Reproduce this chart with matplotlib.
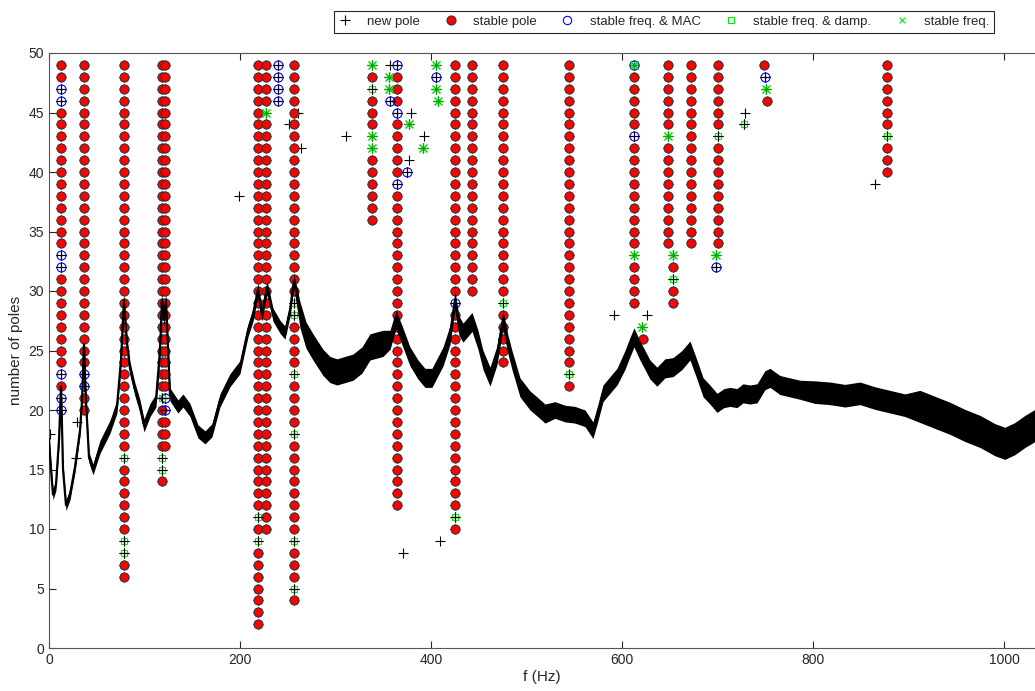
import matplotlib
matplotlib.use("Agg")
import matplotlib.pyplot as plt
from matplotlib.lines import Line2D
import numpy as np

plt.rcParams['font.family'] = ['Liberation Sans', 'DejaVu Sans']

# ---------------- data ----------------
# columns of poles (frequency in Hz, lowest and highest model order)
col_freq = [12.6, 36.6, 78.5, 118.3, 121.5, 218.8, 227.6, 256.5, 337.8, 364.0,
            425.1, 443.0, 475.4, 544.0, 612.6, 648.0, 672.0, 701.0, 877.8]
col_lo = [20, 20, 6, 14, 17, 2, 10, 4, 36, 12, 10, 30, 24, 22, 29, 34, 34, 34, 40]
col_hi = [49, 49, 49, 49, 49, 49, 49, 49, 49, 49, 49, 49, 49, 49, 49, 49, 49, 49, 49]

# rows in the columns that are not fully stable
col_mac = {0: [20, 21, 23, 32, 33, 46, 47], 1: [22, 23], 4: [20, 21],
           9: [39, 45, 49], 10: [29], 14: [43, 49]}
col_damp = {2: [8, 9, 16], 3: [15, 16, 21], 5: [9, 11], 7: [5, 9, 18, 23, 28, 29],
            8: [47], 10: [11], 12: [29], 13: [23], 17: [43], 18: [43]}
col_freqonly = {6: [45], 8: [42, 43, 49], 14: [33, 49], 15: [43]}

# isolated poles
stable_f = [621.7, 653.7, 653.7, 653.7, 749.0, 751.5]
stable_n = [26, 32, 30, 29, 49, 46]
mac_f = [240.0, 240.0, 240.0, 240.0, 357.4, 374.6, 405.0, 698.5, 749.7]
mac_n = [46, 47, 48, 49, 46, 40, 48, 32, 48]
damp_f = [653.7, 728.0]
damp_n = [31, 44]
freq_f = [356.4, 356.0, 377.0, 392.0, 405.0, 405.5, 407.0, 621.3, 653.7, 698.5, 750.8]
freq_n = [48, 47, 44, 42, 49, 47, 46, 27, 33, 33, 47]
new_f = [1.0, 29.0, 28.3, 199.0, 260.7, 251.0, 263.6, 311.0, 357.0, 378.7, 393.0,
         377.0, 371.0, 409.4, 591.6, 626.2, 728.8, 864.6]
new_n = [18, 19, 16, 38, 45, 44, 42, 43, 49, 45, 43, 41, 8, 9, 28, 28, 45, 39]

# spectrum overlay (scaled to the pole axis)
curve_f = [0, 2.1, 4.2, 7.3, 10.5, 12.6, 14.7, 17.8, 22, 27.2,
           32.5, 34.6, 36.6, 38.7, 41.9, 46.1, 53.4, 63.9, 71.2, 75.4,
           78.5, 81.7, 84.8, 90.1, 95.3, 99.5, 105.8, 112, 116.2, 118.3,
           120.4, 122.5, 126.7, 135, 140.3, 147.6, 156, 163.4, 170.7, 179,
           189.5, 200, 208.4, 213.6, 218.8, 223, 228.3, 234.6, 241.9, 247.1,
           252.4, 256.5, 262.8, 269.1, 276.4, 286.9, 294.2, 301.6, 309.9, 318.3,
           327.7, 336.1, 349.7, 357.1, 363.4, 369.6, 378, 386.4, 393.7, 401,
           412.6, 419.9, 425.1, 429.3, 433.5, 443, 449.2, 454.5, 461.8, 469.1,
           475.4, 480.6, 484.8, 493.2, 503.7, 511, 519.4, 529.8, 540.3, 550.8,
           561.3, 569.6, 574.9, 580.1, 587.4, 594.8, 603.1, 608.4, 612.6, 618.8,
           624.1, 629.3, 636.6, 645, 653.4, 662.8, 671.2, 678.5, 685, 692.1,
           699.5, 706.8, 713.1, 720.4, 726.7, 734, 741.4, 749.7, 755, 765.4,
           775.9, 786.4, 802, 817.8, 833.5, 849.2, 865, 880.6, 896.3, 912,
           927.7, 943.5, 959.2, 974.9, 990.6, 1001, 1011.5, 1022, 1032.5]
curve_n = [17.5, 15.0, 12.9, 13.7, 17.5, 22.0, 15.0, 12.0, 12.9, 15.2,
           18.3, 20.8, 25.5, 20.8, 16.0, 15.0, 16.9, 18.6, 20.3, 24.2,
           29.2, 25.5, 23.5, 21.7, 20.3, 18.7, 20.0, 20.8, 25.0, 29.2,
           27.6, 29.2, 21.3, 20.3, 20.8, 20.0, 18.2, 17.7, 18.3, 20.8,
           22.5, 23.6, 26.7, 28.0, 30.1, 28.0, 30.3, 28.0, 27.0, 26.5,
           28.4, 30.9, 28.0, 26.3, 25.3, 24.0, 23.4, 23.2, 23.4, 23.6,
           24.2, 25.3, 25.6, 25.9, 27.6, 26.3, 24.5, 23.4, 22.7, 22.7,
           24.5, 26.3, 29.2, 27.1, 26.5, 27.4, 25.9, 24.2, 22.8, 24.6,
           27.6, 25.5, 24.2, 21.9, 20.8, 20.3, 19.7, 20.0, 19.7, 19.6,
           19.3, 18.3, 19.8, 21.4, 22.1, 22.8, 24.2, 25.3, 26.1, 25.0,
           24.2, 23.4, 22.8, 23.5, 23.6, 24.2, 25.0, 23.4, 21.9, 21.3,
           20.6, 21.0, 21.1, 21.0, 21.4, 21.3, 21.4, 22.5, 22.7, 22.1,
           21.9, 21.7, 21.5, 21.4, 21.2, 21.4, 21.0, 20.7, 20.4, 20.3,
           19.8, 19.3, 18.7, 18.2, 17.5, 17.2, 17.6, 18.2, 18.7]
# band half-thickness of the noisy spectrum, by frequency range
band_lo = [0, 50, 260, 350, 520, 600, 800, 900]
band_hi = [50, 260, 350, 520, 600, 800, 900, 1100]
band_hw = [0.45, 0.55, 1.1, 0.8, 0.7, 0.8, 0.95, 1.35]

# ---------------- assemble ----------------
red_f, red_n = list(stable_f), list(stable_n)
blue_f, blue_n = list(mac_f), list(mac_n)
gsq_f, gsq_n = list(damp_f), list(damp_n)
gx_f, gx_n = list(freq_f), list(freq_n)
for i, f in enumerate(col_freq):
    m = col_mac.get(i, [])
    d = col_damp.get(i, [])
    q = col_freqonly.get(i, [])
    for n in range(col_lo[i], col_hi[i] + 1):
        if n in m:
            blue_f.append(f); blue_n.append(n)
        if n in d:
            gsq_f.append(f); gsq_n.append(n)
        if n in q:
            gx_f.append(f); gx_n.append(n)
        if n not in m and n not in d and n not in q:
            red_f.append(f); red_n.append(n)

all_f = red_f + blue_f + gsq_f + gx_f + new_f
all_n = red_n + blue_n + gsq_n + gx_n + new_n

cf = np.array(curve_f)
cn = np.array(curve_n)
hw = np.zeros_like(cf)
for lo, hi, w in zip(band_lo, band_hi, band_hw):
    hw[(cf >= lo) & (cf < hi)] = w

# ---------------- figure ----------------
fig = plt.figure(figsize=(10.35, 6.91), dpi=100)
ax = fig.add_axes([49 / 1035, 43 / 691, 986 / 1035, 595 / 691])

ax.plot(all_f, all_n, linestyle='none', marker='+', color='black', ms=6.5, mew=0.8, zorder=2)
ax.plot(red_f, red_n, linestyle='none', marker='o', mfc='#ff0000', mec='#333333',
        ms=6.5, mew=0.8, zorder=3)
ax.plot(blue_f, blue_n, linestyle='none', marker='o', mfc='none', mec='#0000ff',
        ms=6.5, mew=0.8, zorder=4)
ax.plot(blue_f, blue_n, linestyle='none', marker='+', color='black', ms=6.5, mew=0.8, zorder=4)
ax.plot(gsq_f, gsq_n, linestyle='none', marker='s', mfc='none', mec='#00ee00',
        ms=5, mew=0.8, zorder=4)
ax.plot(gsq_f, gsq_n, linestyle='none', marker='+', color='black', ms=6.5, mew=0.8, zorder=4)
ax.plot(gx_f, gx_n, linestyle='none', marker='x', color='#00cc00', ms=5.5, mew=1.0, zorder=4)
ax.plot(gx_f, gx_n, linestyle='none', marker='+', color='#00aa00', ms=6.5, mew=1.0, zorder=4)

ax.fill_between(cf, cn - hw, cn + hw, color='black', lw=0, zorder=5)
ax.plot(cf, cn, color='black', lw=1.6, zorder=6)

ax.set_xlim(0, 1032.5)
ax.set_ylim(0, 50)
ax.set_xticks([0, 200, 400, 600, 800, 1000])
ax.set_yticks([0, 5, 10, 15, 20, 25, 30, 35, 40, 45, 50])
ax.tick_params(direction='in', length=5, width=0.8, colors='#262626', labelsize=10,
               top=True, right=False)
for s in ax.spines.values():
    s.set_color('#555555')
    s.set_linewidth(0.8)
ax.spines['right'].set_visible(False)
ax.set_xlabel('f (Hz)', fontsize=11, color='#262626', labelpad=2)
ax.set_ylabel('number of poles', fontsize=11, color='#262626', labelpad=4)

handles = [
    Line2D([], [], ls='none', marker='+', color='black', ms=7, mew=0.8),
    Line2D([], [], ls='none', marker='o', mfc='#ff0000', mec='#333333', ms=6.5, mew=0.8),
    Line2D([], [], ls='none', marker='o', mfc='none', mec='#0000ff', ms=6, mew=0.8),
    Line2D([], [], ls='none', marker='s', mfc='none', mec='#00ee00', ms=4.5, mew=0.8),
    Line2D([], [], ls='none', marker='x', color='#00ee00', ms=5, mew=0.8),
]
labels = ['new pole', 'stable pole', 'stable freq. & MAC', 'stable freq. & damp.', 'stable freq.']
leg = fig.legend(handles, labels, loc='center', bbox_to_anchor=(664 / 1035, 1 - 22 / 691),
                 ncol=5, fontsize=9.5, frameon=True, fancybox=False, framealpha=1,
                 edgecolor='#262626', handlelength=1.0, handletextpad=1.2,
                 columnspacing=1.8, borderpad=0.35)
leg.get_frame().set_linewidth(0.8)
for t in leg.get_texts():
    t.set_color('#262626')

fig.savefig('out.png', dpi=100)
